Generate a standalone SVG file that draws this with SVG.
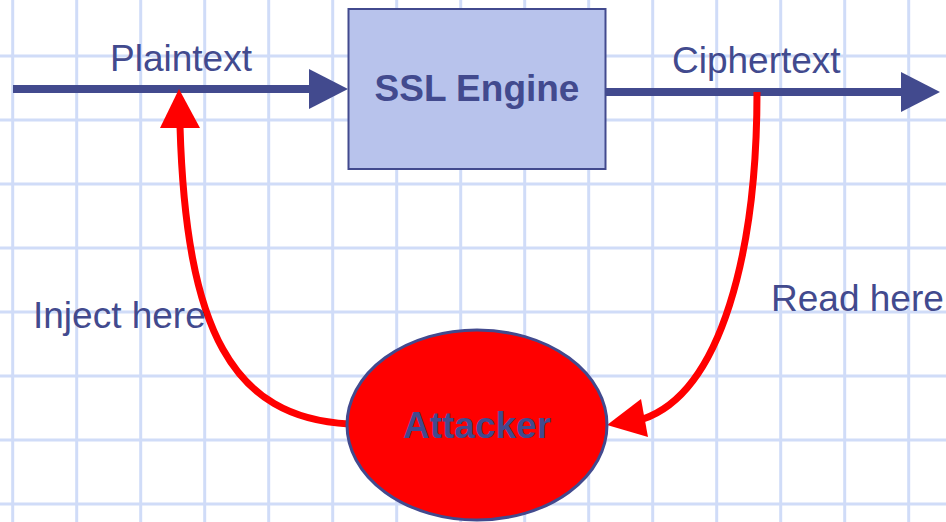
<svg xmlns="http://www.w3.org/2000/svg" width="946" height="522" viewBox="0 0 946 522">
<style>
.grid line{stroke:#d0dcf8;stroke-width:3}
.lbl{font-family:"Liberation Sans",Arial,sans-serif;font-size:37px;fill:#424a8e}
.bold{font-weight:bold}
.flow{stroke:#424a8e;stroke-width:8;fill:none}
.flowhead{fill:#424a8e}
.attack{stroke:#ff0000;stroke-width:7;fill:none}
.attackhead{fill:#ff0000}
</style>
<rect width="946" height="522" fill="#ffffff"/>
<g class="grid">
<line x1="12.7" y1="0" x2="12.7" y2="522"/>
<line x1="76.7" y1="0" x2="76.7" y2="522"/>
<line x1="140.7" y1="0" x2="140.7" y2="522"/>
<line x1="204.7" y1="0" x2="204.7" y2="522"/>
<line x1="268.7" y1="0" x2="268.7" y2="522"/>
<line x1="332.7" y1="0" x2="332.7" y2="522"/>
<line x1="396.7" y1="0" x2="396.7" y2="522"/>
<line x1="460.7" y1="0" x2="460.7" y2="522"/>
<line x1="524.7" y1="0" x2="524.7" y2="522"/>
<line x1="588.7" y1="0" x2="588.7" y2="522"/>
<line x1="652.7" y1="0" x2="652.7" y2="522"/>
<line x1="716.7" y1="0" x2="716.7" y2="522"/>
<line x1="780.7" y1="0" x2="780.7" y2="522"/>
<line x1="844.7" y1="0" x2="844.7" y2="522"/>
<line x1="908.7" y1="0" x2="908.7" y2="522"/>
<line x1="0" y1="56" x2="946" y2="56"/>
<line x1="0" y1="120" x2="946" y2="120"/>
<line x1="0" y1="184" x2="946" y2="184"/>
<line x1="0" y1="248" x2="946" y2="248"/>
<line x1="0" y1="312" x2="946" y2="312"/>
<line x1="0" y1="376" x2="946" y2="376"/>
<line x1="0" y1="440" x2="946" y2="440"/>
<line x1="0" y1="504" x2="946" y2="504"/>
</g>
<g id="connectors">
<line class="flow" x1="13" y1="89" x2="312" y2="89"/>
<polygon class="flowhead" points="309,69 348,89 309,109"/>
<line class="flow" x1="605" y1="92" x2="903" y2="92"/>
<polygon class="flowhead" points="901,72 940,92 901,112"/>
<path class="attack" d="M349,424 C232,418 186,330 180,126"/>
<polygon class="attackhead" points="179,89 160,128 200,128"/>
<path class="attack" d="M757,92 C757,250 722,392 643,419"/>
<polygon class="attackhead" points="607,425 641,399 648,437"/>
</g>
<g id="label-plaintext"><text class="lbl" x="110" y="71">Plaintext</text></g>
<g id="label-ciphertext"><text class="lbl" x="672" y="73">Ciphertext</text></g>
<g id="label-inject"><text class="lbl" x="33" y="328">Inject here</text></g>
<g id="label-read"><text class="lbl" x="771" y="311">Read here</text></g>
<g id="ssl-engine">
<rect x="348.5" y="9" width="257" height="160" fill="#b8c3ec" stroke="#424a8e" stroke-width="2"/>
<text class="lbl bold" x="477" y="101" text-anchor="middle">SSL Engine</text>
</g>
<g id="attacker">
<ellipse cx="477" cy="425" rx="130" ry="95" fill="#ff0000" stroke="#424a8e" stroke-width="3"/>
<text class="lbl bold" x="477" y="438" text-anchor="middle">Attacker</text>
</g>
</svg>
